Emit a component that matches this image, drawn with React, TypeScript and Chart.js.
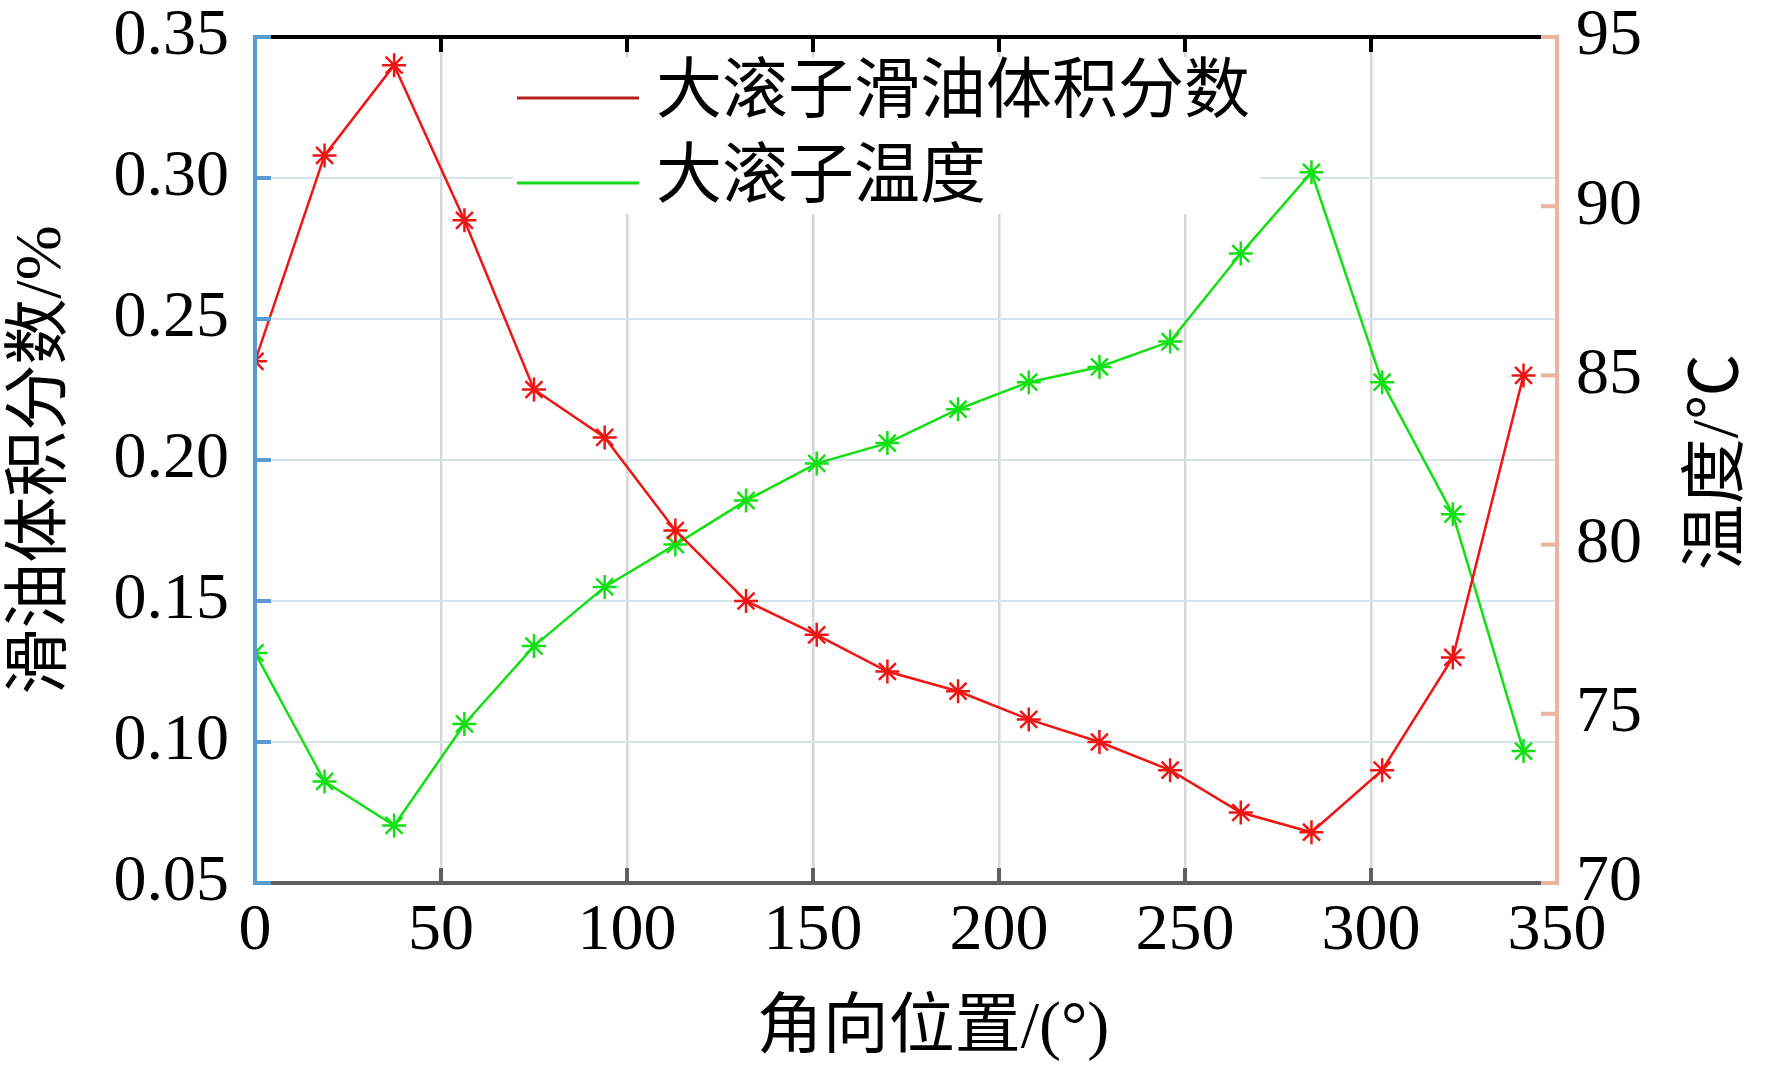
import React, { useEffect, useRef } from "react";
import { Chart, registerables } from "chart.js";

Chart.register(...registerables);

// angular position of each sample (deg)
const angles = [0, 18.7, 37.4, 56.3, 75, 94, 113, 132, 151, 170, 189, 208, 227, 246, 265, 284, 303, 322, 341];
// oil volume fraction of the large roller (%)
const oilFraction = [
  0.235, 0.308, 0.34, 0.285, 0.225, 0.208, 0.175, 0.15, 0.138, 0.125,
  0.118, 0.108, 0.1, 0.09, 0.075, 0.068, 0.09, 0.13, 0.23,
];
// temperature of the large roller (°C)
const rollerTemp = [
  76.8, 73.0, 71.7, 74.7, 77.0, 78.75, 80.0, 81.3, 82.4, 83.0,
  84.0, 84.8, 85.25, 86.0, 88.6, 91.0, 84.8, 80.9, 73.9,
];

const xInnerTicks = [50, 100, 150, 200, 250, 300];
const leftTicks = [0.05, 0.1, 0.15, 0.2, 0.25, 0.3, 0.35];
const rightTicks = [70, 75, 80, 85, 90, 95];

const seriesNames = ["大滚子滑油体积分数", "大滚子温度"];
const xTitle = "角向位置/(°)";
const leftTitle = "滑油体积分数/%";
const rightTitle = "温度/℃";

const FONT = "'Liberation Serif', 'Noto Sans CJK SC', serif";
const RED = "#f01515";
const GREEN = "#12e012";
const LEGEND_RED = "#b8201e";
const LEGEND_GREEN = "#14dc14";
const BLUE = "#5a9bd3";
const SALMON = "#ebb49e";
const DARK = "#5f5f5f";

function seg(ctx: CanvasRenderingContext2D, x1: number, y1: number, x2: number, y2: number, color: string, w: number) {
  ctx.strokeStyle = color;
  ctx.lineWidth = w;
  ctx.beginPath();
  ctx.moveTo(x1, y1);
  ctx.lineTo(x2, y2);
  ctx.stroke();
}

function label(ctx: CanvasRenderingContext2D, text: string, x: number, y: number, rot = 0, align: CanvasTextAlign = "center") {
  ctx.save();
  ctx.translate(x, y);
  ctx.rotate(rot);
  ctx.fillStyle = "#000";
  ctx.font = `66px ${FONT}`;
  ctx.textAlign = align;
  ctx.textBaseline = "middle";
  ctx.fillText(text, 0, 0);
  ctx.restore();
}

const framePlugin = {
  id: "frame",
  beforeDatasetsDraw(chart: any) {
    const ctx: CanvasRenderingContext2D = chart.ctx;
    ctx.save();
    // legend box hides the grid behind it
    ctx.fillStyle = "#ffffff";
    ctx.fillRect(513, 57, 747, 157);
    seg(ctx, 517, 98, 639, 98, LEGEND_RED, 3);
    seg(ctx, 517, 183, 639, 183, LEGEND_GREEN, 3);
    label(ctx, seriesNames[0], 656, 95, 0, "left");
    label(ctx, seriesNames[1], 656, 180, 0, "left");
    ctx.restore();
  },
  afterDraw(chart: any) {
    const ctx: CanvasRenderingContext2D = chart.ctx;
    const { left, right, top, bottom } = chart.chartArea;
    const xs = chart.scales.x;
    const yl = chart.scales.y;
    const yr = chart.scales.y1;
    ctx.save();
    ctx.lineCap = "butt";
    seg(ctx, left, top, right, top, "#000", 4);
    seg(ctx, left, bottom, right, bottom, DARK, 4);
    seg(ctx, left, top - 2, left, bottom + 2, BLUE, 4);
    seg(ctx, right, top - 2, right, bottom + 2, SALMON, 4);
    for (const v of xInnerTicks) {
      const px = xs.getPixelForValue(v);
      seg(ctx, px, top, px, top + 15, "#000", 4);
      seg(ctx, px, bottom, px, bottom - 15, DARK, 4);
    }
    for (const v of leftTicks) {
      const py = yl.getPixelForValue(v);
      seg(ctx, left, py, left + 16, py, BLUE, 4);
    }
    for (const v of rightTicks) {
      const py = yr.getPixelForValue(v);
      seg(ctx, right, py, right - 16, py, SALMON, 4);
    }
    label(ctx, leftTitle, 43, (top + bottom) / 2, -Math.PI / 2);
    label(ctx, rightTitle, 1720, 462, -Math.PI / 2);
    label(ctx, xTitle, 933, 1030);
    ctx.restore();
  },
};

const App = () => {
  const canvasRef = useRef<HTMLCanvasElement>(null);
  const chartRef = useRef<Chart | null>(null);

  useEffect(() => {
    document.body.style.margin = "0";
    const canvas = canvasRef.current;
    if (!canvas) return;
    const tickFont = { family: FONT, size: 66, lineHeight: 1 };

    chartRef.current = new Chart(canvas, {
      type: "line",
      data: {
        datasets: [
          {
            label: seriesNames[0],
            data: angles.map((a, i) => ({ x: a, y: oilFraction[i] })),
            yAxisID: "y",
            borderColor: RED,
            backgroundColor: RED,
            borderWidth: 2.5,
            pointStyle: "star",
            pointRadius: 12,
            pointBorderWidth: 2.5,
            pointBorderColor: RED,
            tension: 0,
            clip: 0,
          },
          {
            label: seriesNames[1],
            data: angles.map((a, i) => ({ x: a, y: rollerTemp[i] })),
            yAxisID: "y1",
            borderColor: GREEN,
            backgroundColor: GREEN,
            borderWidth: 2.5,
            pointStyle: "star",
            pointRadius: 12,
            pointBorderWidth: 2.5,
            pointBorderColor: GREEN,
            tension: 0,
            clip: 0,
          },
        ],
      },
      options: {
        animation: false,
        responsive: true,
        maintainAspectRatio: false,
        layout: { padding: { top: 37, left: 0, right: 0, bottom: 0 } },
        plugins: {
          legend: { display: false },
          tooltip: { enabled: false },
        },
        scales: {
          x: {
            type: "linear",
            min: 0,
            max: 350,
            ticks: { stepSize: 50, font: tickFont, color: "#000", padding: 16 },
            grid: {
              drawTicks: false,
              lineWidth: 2.5,
              color: (c: any) =>
                c.tick && (c.tick.value === 0 || c.tick.value === 350) ? "rgba(0,0,0,0)" : "#d6d6d6",
            },
            border: { display: false },
            afterFit: (s: any) => {
              s.height = 191;
              s.paddingLeft = 0;
              s.paddingRight = 0;
            },
          },
          y: {
            type: "linear",
            position: "left",
            min: 0.05,
            max: 0.35,
            ticks: {
              stepSize: 0.05,
              font: tickFont,
              color: "#000",
              padding: 26,
              callback: (v: any) => Number(v).toFixed(2),
            },
            grid: {
              drawTicks: false,
              lineWidth: 2,
              color: (c: any) => (c.index === 0 || c.index === 6 ? "rgba(0,0,0,0)" : "#d5e3ee"),
            },
            border: { display: false },
            afterFit: (s: any) => {
              s.width = 255;
              s.paddingTop = 0;
              s.paddingBottom = 0;
            },
          },
          y1: {
            type: "linear",
            position: "right",
            min: 70,
            max: 95,
            ticks: { stepSize: 5, font: tickFont, color: "#000", padding: 19 },
            grid: { display: false, drawTicks: false },
            border: { display: false },
            afterFit: (s: any) => {
              s.width = 215;
              s.paddingTop = 0;
              s.paddingBottom = 0;
            },
          },
        },
      },
      plugins: [framePlugin],
    });

    return () => {
      chartRef.current?.destroy();
      chartRef.current = null;
    };
  }, []);

  return (
    <div style={{ position: "relative", width: 1772, height: 1074, background: "#fff" }}>
      <canvas ref={canvasRef} />
    </div>
  );
};

export default App;
